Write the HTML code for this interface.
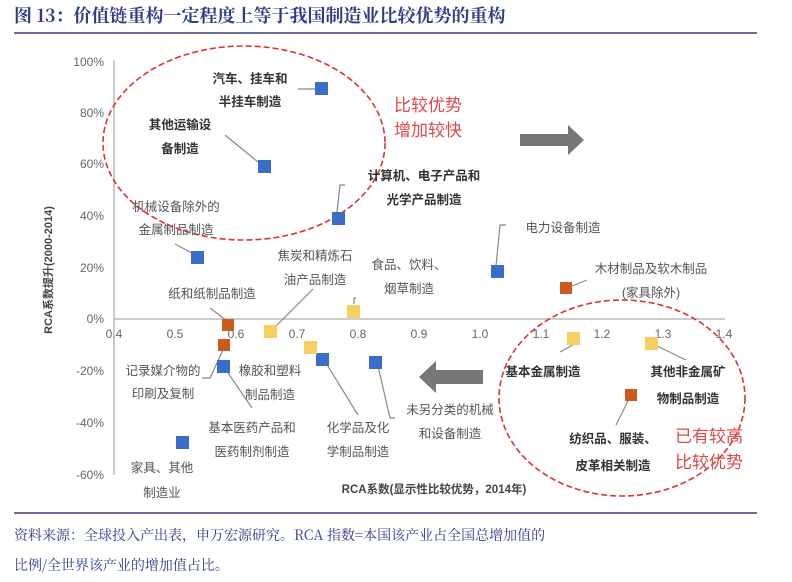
<!DOCTYPE html>
<html><head><meta charset="utf-8"><style>
body{margin:0;background:#fff;width:792px;height:582px;overflow:hidden}
svg{display:block;font-family:"Liberation Sans","Noto Sans CJK SC",sans-serif}
.t{fill:#555;font-size:12.5px}
.b{fill:#333;font-size:12.5px;font-weight:bold}
.ax{fill:#666;font-size:12px}
.l{stroke:#888;stroke-width:1.2;fill:none}
</style></head><body>
<svg width="792" height="582" viewBox="0 0 792 582">
<text x="14" y="22" font-size="18" font-weight="bold" fill="#2e3a8c" font-family="'Noto Serif CJK SC','Liberation Sans',serif">图 13：价值链重构一定程度上等于我国制造业比较优势的重构</text>
<line x1="14" y1="33" x2="757" y2="33" stroke="#6b6f9a" stroke-width="2"/>
<line x1="14" y1="513" x2="757" y2="513" stroke="#6b6f9a" stroke-width="2"/>
<g font-size="14" fill="#2e3a8c" font-family="'Noto Serif CJK SC','Liberation Sans',serif">
<text x="14" y="540">资料来源：全球投入产出表，申万宏源研究。RCA 指数=本国该产业占全国总增加值的</text>
<text x="14" y="570">比例/全世界该产业的增加值占比。</text></g>
<line x1="114" y1="60" x2="114" y2="475" stroke="#bbb" stroke-width="1.5"/>
<line x1="114" y1="319" x2="725" y2="319" stroke="#bbb" stroke-width="1.5"/>
<g class="ax" text-anchor="end">
<text x="104" y="66">100%</text><text x="104" y="117">80%</text><text x="104" y="168">60%</text><text x="104" y="220">40%</text><text x="104" y="272">20%</text><text x="104" y="323">0%</text><text x="104" y="375">-20%</text><text x="104" y="427">-40%</text><text x="104" y="479">-60%</text></g>
<g class="ax" text-anchor="middle">
<text x="114" y="338">0.4</text><text x="175" y="338">0.5</text><text x="236" y="338">0.6</text><text x="297" y="338">0.7</text><text x="358" y="338">0.8</text><text x="419" y="338">0.9</text><text x="480" y="338">1.0</text><text x="541" y="338">1.1</text><text x="602" y="338">1.2</text><text x="663" y="338">1.3</text><text x="724" y="338">1.4</text></g>
<text transform="translate(52,270) rotate(-90)" text-anchor="middle" font-size="11" font-weight="bold" fill="#444">RCA系数提升(2000-2014)</text>
<text x="434" y="493" text-anchor="middle" font-size="11.5" font-weight="bold" fill="#444">RCA系数(显示性比较优势，2014年)</text>
<ellipse cx="244" cy="143" rx="141" ry="97" fill="none" stroke="#e03030" stroke-width="1.6" stroke-dasharray="6,3"/>
<ellipse cx="622" cy="398" rx="123" ry="98" fill="none" stroke="#e03030" stroke-width="1.6" stroke-dasharray="6,3"/>
<polygon points="520,134 568,134 568,125 584,140 568,155 568,146 520,146" fill="#777"/>
<polygon points="483,370 436,370 436,361 419,377 436,393 436,384 483,384" fill="#777"/>
<g class="l">
<path d="M298,89 H315"/><path d="M225,135 L258,162"/><path d="M345,185 H340 L337,212"/>
<path d="M175,244 L192,253"/><path d="M506,225 H500 L496,266"/><path d="M572,286 L587,280"/>
<path d="M354,304 L354,298 H356"/><path d="M313,289 L275,327"/><path d="M210,308 L227,321"/>
<path d="M223,350 L210,378 H202"/><path d="M226,370 L252,408"/><path d="M326,363 L358,415"/>
<path d="M378,366 L390,418 H395"/><path d="M560,352 L578,342"/><path d="M655,345 L686,360"/><path d="M629,399 L616,425"/>
</g>
<g fill="#3a6cc8">
<rect x="315" y="82" width="13" height="13"/><rect x="258" y="160" width="13" height="13"/><rect x="332" y="212" width="13" height="13"/><rect x="191" y="251" width="13" height="13"/><rect x="491" y="265" width="13" height="13"/><rect x="217" y="360" width="13" height="13"/><rect x="316" y="353" width="13" height="13"/><rect x="369" y="356" width="13" height="13"/><rect x="176" y="436" width="13" height="13"/></g>
<g fill="#cc5a1a">
<rect x="560" y="282" width="12" height="12"/><rect x="222" y="319" width="12" height="12"/><rect x="218" y="339" width="12" height="12"/><rect x="625" y="389" width="12" height="12"/></g>
<g fill="#f5d060">
<rect x="347" y="305" width="13" height="13"/><rect x="264" y="325" width="13" height="13"/><rect x="304" y="341" width="13" height="13"/><rect x="567" y="332" width="13" height="13"/><rect x="645" y="337" width="13" height="13"/></g>
<g class="b" text-anchor="middle">
<text x="250" y="83">汽车、挂车和</text><text x="250" y="106">半挂车制造</text>
<text x="180" y="129">其他运输设</text><text x="180" y="153">备制造</text>
<text x="424" y="180">计算机、电子产品和</text><text x="424" y="204">光学产品制造</text>
<text x="543" y="376">基本金属制造</text>
<text x="688" y="376">其他非金属矿</text><text x="688" y="403">物制品制造</text>
<text x="613" y="443">纺织品、服装、</text><text x="613" y="470">皮革相关制造</text></g>
<g class="t" text-anchor="middle">
<text x="176" y="211">机械设备除外的</text><text x="176" y="234">金属制品制造</text>
<text x="315" y="260">焦炭和精炼石</text><text x="315" y="284">油产品制造</text>
<text x="409" y="269">食品、饮料、</text><text x="409" y="293">烟草制造</text>
<text x="212" y="298">纸和纸制品制造</text>
<text x="163" y="375">记录媒介物的</text><text x="163" y="398">印刷及复制</text>
<text x="270" y="375">橡胶和塑料</text><text x="270" y="399">制品制造</text>
<text x="252" y="432">基本医药产品和</text><text x="252" y="456">医药制剂制造</text>
<text x="358" y="432">化学品及化</text><text x="358" y="456">学制品制造</text>
<text x="450" y="414">未另分类的机械</text><text x="450" y="438">和设备制造</text>
<text x="162" y="472">家具、其他</text><text x="162" y="497">制造业</text>
<text x="563" y="232">电力设备制造</text>
<text x="651" y="273">木材制品及软木制品</text><text x="651" y="297">(家具除外)</text></g>
<g fill="#e04848" font-size="17" text-anchor="middle">
<text x="428" y="111">比较优势</text><text x="428" y="136">增加较快</text>
<text x="709" y="442">已有较高</text><text x="709" y="468">比较优势</text></g>
</svg>
</body></html>
